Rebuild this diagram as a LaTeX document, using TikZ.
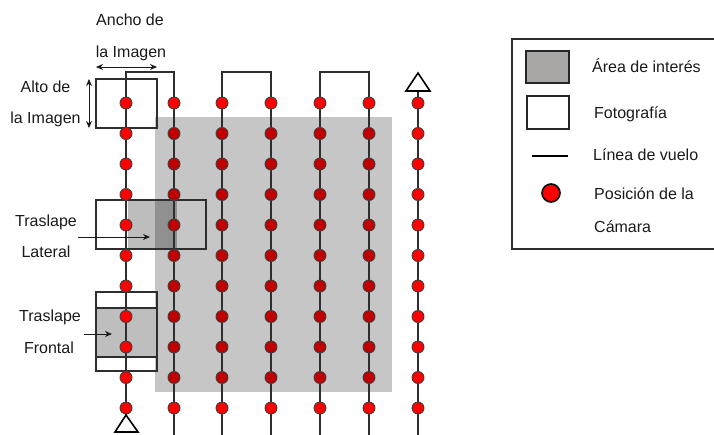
\documentclass[tikz,border=0pt]{standalone}
\usepackage{fontspec}
\setmainfont{Liberation Sans}
\usetikzlibrary{arrows.meta}
\definecolor{aoi}{HTML}{C6C6C6}
\definecolor{ovl}{HTML}{BDBDBD}
\definecolor{ovldark}{HTML}{909090}
\definecolor{frontfill}{HTML}{BEBEBE}
\definecolor{legendgrey}{HTML}{A9A6A6}
\definecolor{dotred}{HTML}{FF0000}
\definecolor{dotdark}{HTML}{C00000}
\definecolor{ink}{HTML}{1A1A1A}
\definecolor{linegrey}{HTML}{2E2E2E}
\tikzset{
  lbl/.style={font=\fontsize{16}{18}\selectfont, text=ink, inner sep=0pt, anchor=base},
  lgl/.style={font=\fontsize{16}{18}\selectfont, text=ink, inner sep=0pt, anchor=base west},
  fl/.style={draw=linegrey, line width=1.5pt},
  frame/.style={draw=linegrey, line width=1.3pt},
  dotb/.style={circle, draw=black!75, line width=0.9pt, fill=dotred, minimum size=12pt, inner sep=0pt},
  dotd/.style={circle, draw=black!75, line width=0.9pt, fill=dotdark, minimum size=12pt, inner sep=0pt},
  tri/.style={draw=black, line width=1.6pt, fill=white, line join=miter},
  arr/.style={draw=ink, line width=1pt, -{Stealth[length=7pt,width=6pt]}},
  darr/.style={draw=ink, line width=1pt, {Stealth[length=7pt,width=6pt]}-{Stealth[length=7pt,width=6pt]}},
}
\begin{document}
\begin{tikzpicture}[x=1pt,y=-1pt]
\useasboundingbox (0,0) rectangle (714,434);
\clip (0,0) rectangle (714,434);
% area of interest
\fill[aoi] (155,117) rectangle (392,392);
% lateral overlap fill
\fill[ovl] (128,200) rectangle (155,249);
\fill[ovldark] (155,200) rectangle (177,249);
% frontal overlap fill
\fill[frontfill] (96,308) rectangle (157,357);
% flight line turning points
\coordinate (t1) at (126,72); \coordinate (t2) at (174,72);
\coordinate (t3) at (222,72); \coordinate (t4) at (271,72);
\coordinate (t5) at (320,72); \coordinate (t6) at (369,72);
\coordinate (t7) at (418,91);
\coordinate (b1) at (126,415); \coordinate (b2) at (174,440);
\coordinate (b3) at (222,440); \coordinate (b4) at (271,440);
\coordinate (b5) at (320,440); \coordinate (b6) at (369,440);
\coordinate (b7) at (418,440);
\draw[fl] (b1) -- (t1) -- (t2) -- (b2);
\draw[fl] (b3) -- (t3) -- (t4) -- (b4);
\draw[fl] (b5) -- (t5) -- (t6) -- (b6);
\draw[fl] (t7) -- (b7);
% photo frames
\draw[frame] (96,79) rectangle (157,128);
\draw[frame] (96,200) rectangle (206,249);
\draw[frame] (96,292) rectangle (157,371);
\draw[frame] (96,308) -- (157,308);
\draw[frame] (96,357) -- (157,357);
% camera positions
\foreach \i/\x in {1/126,7/418}{
  \foreach \j in {0,...,10}{
    \node[dotb] (d\i-\j) at (\x,{103+30.5*\j}) {};
  }
}
\foreach \i/\x in {2/174,3/222,4/271,5/320,6/369}{
  \node[dotb] (d\i-0) at (\x,103) {};
  \foreach \j in {1,...,9}{
    \node[dotd] (d\i-\j) at (\x,{103+30.5*\j}) {};
  }
  \node[dotb] (d\i-10) at (\x,408) {};
}
% start / end triangles
\draw[tri] (418,73) -- (406,91) -- (430,91) -- cycle;
\draw[tri] (126,415) -- (115,432) -- (138,432) -- cycle;
% image size annotations
\node[lbl] (ancho1) at (130,25) {Ancho de};
\node[lbl] (ancho2) at (131,57) {la Imagen};
\coordinate (aw1) at (96,67); \coordinate (aw2) at (157,67);
\draw[darr] (aw1) -- (aw2);
\node[lbl] (alto1) at (45.5,92) {Alto de};
\node[lbl] (alto2) at (45.5,123) {la Imagen};
\coordinate (ah1) at (89,79); \coordinate (ah2) at (89,128);
\draw[darr] (ah1) -- (ah2);
% overlaps
\node[lbl] (tl1) at (46,226) {Traslape};
\node[lbl] (tl2) at (46,257) {Lateral};
\coordinate (la1) at (78,237); \coordinate (la2) at (150,237);
\draw[arr] (la1) -- (la2);
\node[lbl] (tf1) at (50,321) {Traslape};
\node[lbl] (tf2) at (49,353) {Frontal};
\coordinate (fa1) at (84,334); \coordinate (fa2) at (112,334);
\draw[arr] (fa1) -- (fa2);
% legend
\draw[frame, line width=1.4pt] (512,39) rectangle (740,249);
\node[draw=black!85, line width=1.6pt, fill=legendgrey, minimum width=43pt, minimum height=32pt, inner sep=0pt] (lg1) at (547.5,67) {};
\node[lgl] (lt1) at (592,72) {Área de interés};
\node[draw=black!85, line width=1.6pt, fill=white, minimum width=42pt, minimum height=33pt, inner sep=0pt] (lg2) at (548,112.5) {};
\node[lgl] (lt2) at (594,118) {Fotografía};
\coordinate (ll1) at (532,156); \coordinate (ll2) at (568,156);
\draw[line width=2.2pt, black] (ll1) -- (ll2);
\node[lgl] (lt3) at (593,160) {Línea de vuelo};
\node[circle, draw=black, line width=1.6pt, fill=dotred, minimum size=18pt, inner sep=0pt] (lg4) at (551,193) {};
\node[lgl] (lt4) at (594,199) {Posición de la};
\node[lgl] (lt5) at (594,232) {Cámara};
\end{tikzpicture}
\end{document}
